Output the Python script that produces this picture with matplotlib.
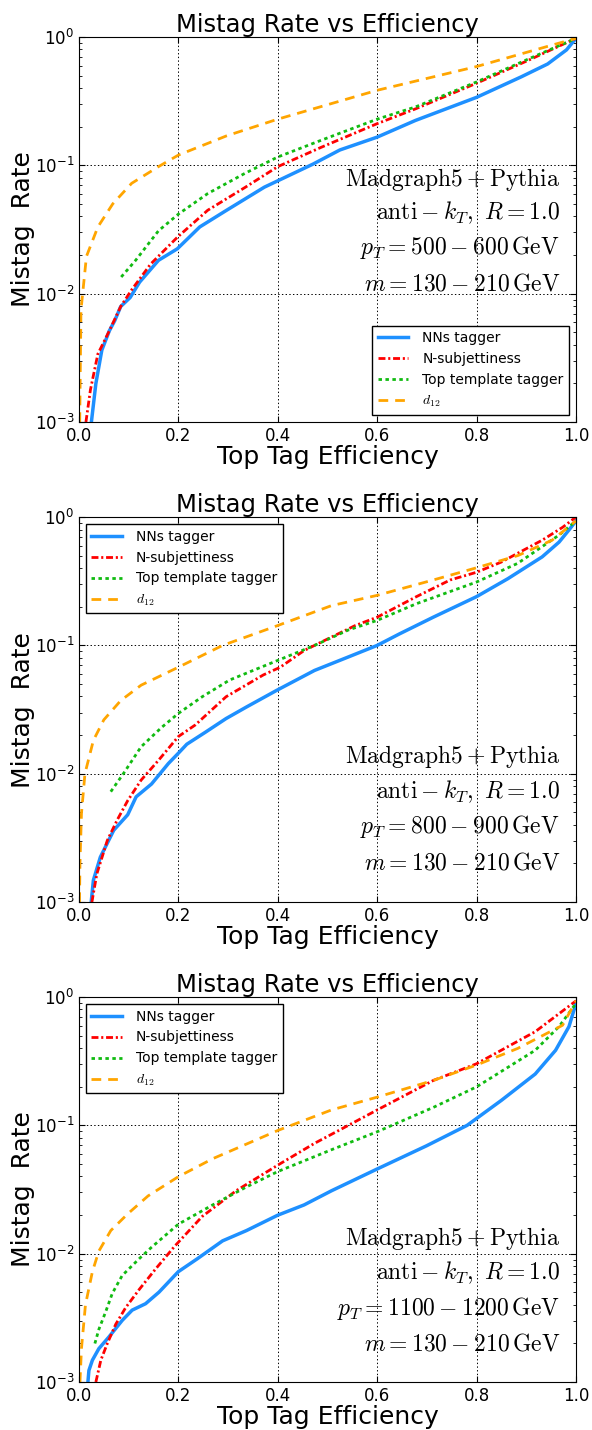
import matplotlib
matplotlib.use("Agg")
import matplotlib.pyplot as plt
import numpy as np

plt.rcParams['font.family'] = ['DejaVu Sans']
plt.rcParams['axes.unicode_minus'] = False
plt.rcParams['xtick.direction'] = 'in'
plt.rcParams['ytick.direction'] = 'in'
plt.rcParams['xtick.top'] = True
plt.rcParams['ytick.right'] = True
plt.rcParams['lines.scale_dashes'] = False

# efficiency values, mistag rate given as log10
# --- panel 1: pT = 500-600 GeV
nn1_x = [0.025, 0.034, 0.046, 0.061, 0.072, 0.084, 0.103, 0.122, 0.16, 0.198, 0.243, 0.297, 0.373, 0.471, 0.525, 0.6, 0.677, 0.8, 0.89, 0.943, 0.981, 1.0]
nn1_y = [-3.0, -2.70, -2.44, -2.29, -2.21, -2.10, -2.03, -1.91, -1.74, -1.65, -1.48, -1.35, -1.17, -0.99, -0.88, -0.78, -0.65, -0.47, -0.31, -0.21, -0.10, -0.01]
ns1_x = [0.014, 0.023, 0.038, 0.061, 0.084, 0.106, 0.144, 0.198, 0.259, 0.335, 0.4, 0.487, 0.6, 0.677, 0.8, 0.905, 1.0]
ns1_y = [-3.0, -2.75, -2.47, -2.29, -2.10, -1.97, -1.77, -1.56, -1.35, -1.17, -1.01, -0.86, -0.675, -0.56, -0.36, -0.18, -0.01]
tt1_x = [0.085, 0.114, 0.16, 0.2, 0.259, 0.335, 0.4, 0.487, 0.6, 0.677, 0.8, 0.905, 1.0]
tt1_y = [-1.87, -1.74, -1.51, -1.38, -1.22, -1.06, -0.935, -0.805, -0.64, -0.545, -0.35, -0.17, -0.01]
d1_x = [0.0015, 0.004, 0.015, 0.038, 0.068, 0.106, 0.16, 0.2, 0.297, 0.4, 0.6, 0.8, 1.0]
d1_y = [-3.0, -2.13, -1.71, -1.48, -1.30, -1.14, -1.01, -0.92, -0.77, -0.64, -0.415, -0.23, -0.01]

# --- panel 2: pT = 800-900 GeV
nn2_x = [0.0246, 0.029, 0.043, 0.070, 0.098, 0.115, 0.146, 0.18, 0.2, 0.217, 0.255, 0.296, 0.337, 0.398, 0.474, 0.542, 0.6, 0.645, 0.713, 0.8, 0.863, 0.932, 0.966, 0.986, 1.0]
nn2_y = [-3.0, -2.83, -2.65, -2.44, -2.32, -2.18, -2.08, -1.92, -1.84, -1.77, -1.675, -1.57, -1.48, -1.35, -1.195, -1.09, -1.0, -0.91, -0.78, -0.62, -0.48, -0.31, -0.195, -0.10, -0.03]
ns2_x = [0.026, 0.036, 0.057, 0.077, 0.098, 0.125, 0.159, 0.2, 0.234, 0.296, 0.371, 0.405, 0.453, 0.508, 0.556, 0.6, 0.679, 0.747, 0.8, 0.85, 0.932, 0.973, 1.0]
ns2_y = [-3.0, -2.78, -2.52, -2.36, -2.21, -2.05, -1.90, -1.71, -1.62, -1.40, -1.23, -1.17, -1.04, -0.935, -0.845, -0.78, -0.62, -0.49, -0.43, -0.35, -0.18, -0.08, 0.0]
tt2_x = [0.064, 0.091, 0.125, 0.166, 0.2, 0.248, 0.303, 0.398, 0.474, 0.542, 0.6, 0.679, 0.8, 0.883, 0.966, 1.0]
tt2_y = [-2.14, -1.99, -1.79, -1.64, -1.53, -1.40, -1.27, -1.12, -1.0, -0.88, -0.805, -0.675, -0.506, -0.36, -0.14, -0.03]
d2_x = [0.001, 0.002, 0.005, 0.012, 0.029, 0.05, 0.084, 0.125, 0.2, 0.289, 0.4, 0.508, 0.6, 0.713, 0.8, 0.883, 0.952, 1.0]
d2_y = [-3.0, -2.7, -2.31, -2.0, -1.74, -1.58, -1.43, -1.31, -1.17, -1.0, -0.845, -0.69, -0.61, -0.49, -0.395, -0.30, -0.18, -0.03]

# --- panel 3: pT = 1100-1200 GeV
nn3_x = [0.018, 0.02, 0.027, 0.04, 0.06, 0.087, 0.107, 0.134, 0.161, 0.2, 0.238, 0.289, 0.337, 0.4, 0.453, 0.508, 0.6, 0.699, 0.781, 0.85, 0.918, 0.959, 0.986, 1.0]
nn3_y = [-3.0, -2.91, -2.83, -2.74, -2.65, -2.52, -2.44, -2.39, -2.30, -2.14, -2.04, -1.90, -1.82, -1.70, -1.62, -1.51, -1.34, -1.16, -1.0, -0.805, -0.60, -0.415, -0.23, -0.05]
ns3_x = [0.034, 0.044, 0.057, 0.074, 0.094, 0.121, 0.154, 0.193, 0.248, 0.316, 0.4, 0.474, 0.542, 0.6, 0.713, 0.8, 0.918, 1.0]
ns3_y = [-3.0, -2.83, -2.70, -2.55, -2.42, -2.28, -2.12, -1.94, -1.71, -1.51, -1.31, -1.14, -1.0, -0.88, -0.65, -0.52, -0.27, -0.03]
tt3_x = [0.032, 0.040, 0.054, 0.067, 0.087, 0.121, 0.146, 0.2, 0.269, 0.337, 0.4, 0.508, 0.6, 0.713, 0.8, 0.918, 0.966, 1.0]
tt3_y = [-2.70, -2.59, -2.45, -2.31, -2.17, -2.04, -1.95, -1.77, -1.62, -1.48, -1.36, -1.19, -1.05, -0.86, -0.70, -0.415, -0.23, -0.05]
d3_x = [0.002, 0.005, 0.013, 0.027, 0.04, 0.064, 0.098, 0.139, 0.2, 0.269, 0.4, 0.508, 0.6, 0.713, 0.8, 0.883, 0.973, 1.0]
d3_y = [-3.0, -2.74, -2.40, -2.14, -1.98, -1.82, -1.69, -1.55, -1.40, -1.26, -1.04, -0.88, -0.78, -0.65, -0.53, -0.40, -0.22, -0.03]

pt_labels = ['500-600', '800-900', '1100-1200']
legend_loc = ['lower right', 'upper left', 'upper left']
text_y = [[0.631, 0.543, 0.452, 0.361], [0.377, 0.286, 0.195, 0.104], [0.374, 0.283, 0.192, 0.101]]

panels = [
    (nn1_x, nn1_y, ns1_x, ns1_y, tt1_x, tt1_y, d1_x, d1_y),
    (nn2_x, nn2_y, ns2_x, ns2_y, tt2_x, tt2_y, d2_x, d2_y),
    (nn3_x, nn3_y, ns3_x, ns3_y, tt3_x, tt3_y, d3_x, d3_y),
]

fig = plt.figure(figsize=(5.92, 14.3), dpi=100)
bottoms = [0.7049, 0.3692, 0.03357]

for i, p in enumerate(panels):
    ax = fig.add_axes([0.1334, bottoms[i], 0.8395, 0.2692])
    nx, ny, sx, sy, tx, ty, dx, dy = p
    ax.plot(nx, 10 ** np.array(ny), color='#1e90ff', lw=2.5, ls='-', label='NNs tagger')
    ax.plot(sx, 10 ** np.array(sy), color='red', lw=2, ls=(0, (5, 2, 1.5, 2)), label='N-subjettiness')
    ax.plot(tx, 10 ** np.array(ty), color='#11bb11', lw=2, ls=(0, (2.5, 2.5)), label='Top template tagger')
    ax.plot(dx, 10 ** np.array(dy), color='orange', lw=2, ls=(0, (7, 5)), label='$d_{12}$')
    ax.set_yscale('log')
    ax.set_xlim(0, 1)
    ax.set_ylim(1e-3, 1)
    ax.grid(True, which='major', color='black', ls=':', lw=0.7)
    ax.tick_params(which='major', length=4, labelsize=12)
    ax.tick_params(which='minor', length=2)
    ax.set_title('Mistag Rate vs Efficiency', fontsize=17.5, pad=2)
    ax.set_xlabel('Top Tag Efficiency', fontsize=18, labelpad=0)
    ax.set_ylabel('Mistag  Rate', fontsize=18, labelpad=0)
    leg = ax.legend(loc=legend_loc[i], fontsize=10, fancybox=False, framealpha=1,
                    edgecolor='black', handlelength=2.2, handletextpad=1.0)
    leg.get_frame().set_linewidth(1.0)
    leg.get_texts()[3].set_math_fontfamily('cm')
    lines = [r'$\mathrm{Madgraph5+Pythia}$',
             r'$\mathrm{anti}-k_T,\ R=1.0$',
             r'$p_T=' + pt_labels[i] + r'\,\mathrm{GeV}$',
             r'$m=130-210\,\mathrm{GeV}$']
    for j, s in enumerate(lines):
        ax.text(0.968, text_y[i][j], s, transform=ax.transAxes, ha='right', va='center',
                fontsize=17, math_fontfamily='cm')

fig.savefig('out.png', dpi=100)
